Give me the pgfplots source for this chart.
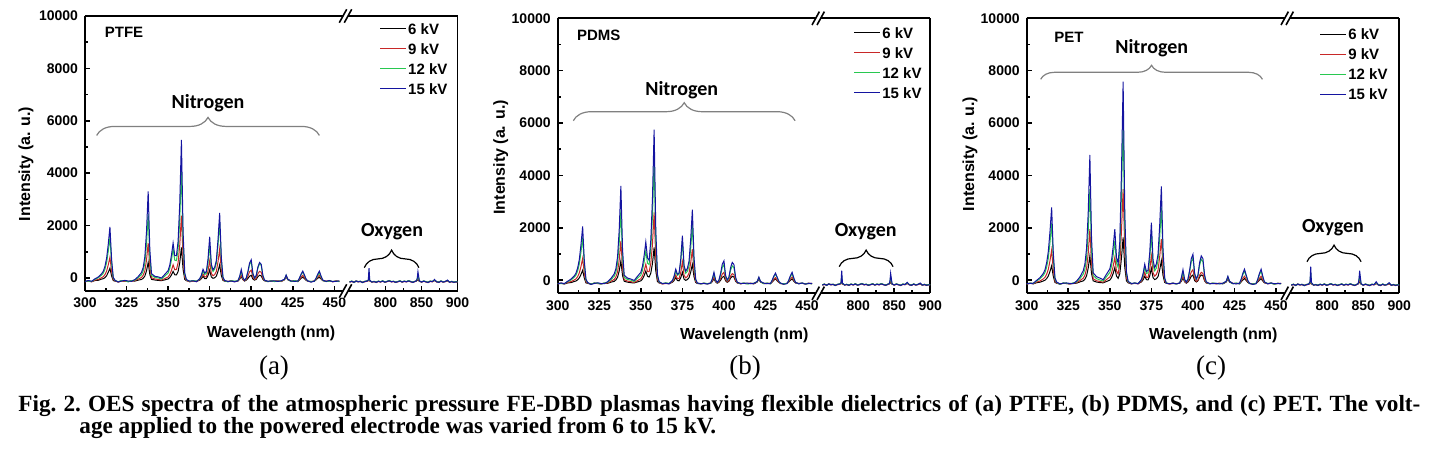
\documentclass[border=0pt]{standalone}
\usepackage{fontspec}
\setmainfont{Liberation Sans}
\newfontfamily\calfont{Carlito}
\newfontfamily\timesfont{Liberation Serif}
\usepackage{pgfplots}
\usepackage{pgfplotstable}
\pgfplotsset{compat=1.18}
\usetikzlibrary{decorations.pathreplacing}

\definecolor{c6}{RGB}{0,0,0}
\definecolor{c9}{RGB}{200,40,40}
\definecolor{c12}{RGB}{40,200,80}
\definecolor{c15}{RGB}{20,20,160}

% ---------- PTFE ----------
\pgfplotstableread{
x k6 k9 k12 k15
300 -140 -150 -130 -135
302 -110 -120 -125 -100
304 -145 -150 -135 -130
306 -100 -85 -55 -35
308 -90 -60 5 35
310 -45 10 105 160
311 -30 45 180 255
312 10 125 330 440
313 85 260 580 750
314 215 500 1015 1290
315 370 790 1550 1950
316 75 245 550 710
317 -100 -65 -5 25
318 -120 -110 -95 -90
320 -150 -160 -145 -155
322 -110 -115 -100 -120
324 -125 -135 -110 -95
326 -140 -130 -150 -120
328 -115 -125 -105 -130
330 -120 -105 -85 -65
332 -85 -45 10 50
334 -60 15 125 210
335 -15 100 265 395
336 70 270 570 805
337 270 680 1290 1760
338 590 1330 2440 3300
339 130 390 775 1075
340 -55 5 95 165
342 -80 -40 20 60
344 -95 -60 0 40
346 -105 -85 -45 -5
348 -75 -25 70 135
350 -40 35 185 275
351 15 130 365 490
352 110 285 685 865
353 250 500 1100 1330
354 120 310 675 850
355 115 320 660 850
356 240 575 1080 1390
357 585 1255 2235 2845
358 1160 2380 4160 5270
359 330 755 1380 1765
360 -55 20 125 195
361 -105 -95 -75 -65
363 -140 -150 -130 -125
365 -115 -120 -100 -110
367 -130 -140 -125 -145
369 -85 -65 -45 -30
370 -30 15 70 105
371 60 150 260 330
372 -25 40 130 185
373 -25 45 175 240
374 90 265 565 725
375 300 650 1250 1570
376 35 170 405 515
377 -15 80 245 310
378 5 125 335 405
379 65 245 560 660
380 250 610 1240 1440
381 500 1100 2150 2480
382 95 305 675 790
383 -95 -55 5 25
384 -125 -115 -110 -100
386 -140 -130 -150 -135
388 -110 -125 -115 -120
390 -135 -145 -125 -150
392 -120 -115 -105 -110
393 -50 -30 30 55
394 50 100 250 320
395 -70 -55 -10 10
396 -120 -110 -95 -90
397 -85 -55 -10 0
398 -20 70 215 245
399 65 235 510 570
400 100 300 620 690
401 -45 25 140 165
402 -85 -60 -15 -5
403 -55 -10 80 95
404 45 160 375 415
405 100 250 540 590
406 80 215 475 520
407 -55 -10 80 95
408 -110 -100 -85 -85
410 -140 -135 -145 -130
412 -115 -125 -110 -120
414 -130 -120 -140 -115
416 -120 -110 -125 -135
418 -135 -140 -120 -110
420 -70 -65 -55 -50
421 40 70 100 110
422 -70 -60 -55 -50
424 -130 -125 -140 -120
426 -110 -120 -105 -130
428 -140 -130 -135 -125
429 -75 -55 -15 -5
430 -15 35 125 145
431 30 100 230 260
432 -30 10 90 110
433 -90 -75 -50 -45
434 -125 -130 -120 -115
436 -140 -150 -135 -160
438 -120 -115 -130 -125
439 -75 -55 -25 -5
440 -15 35 105 145
441 30 100 200 260
442 -45 -10 40 70
443 -105 -100 -90 -80
445 -130 -125 -140 -135
447 -115 -110 -120 -100
449 -140 -150 -135 -145
451 -120 -115 -125 -130
453 -135 -130 -140 -115
}\ptfeL

\pgfplotstableread{
x k6 k9 k12 k15
750 -150 -165 -155 -160
753 -125 -140 -120 -130
756 -160 -170 -175 -170
759 -115 -130 -125 -120
762 -140 -155 -145 -150
765 -130 -140 -125 -135
768 -165 -170 -180 -175
771 -135 -150 -130 -140
774 -120 -130 -115 -125
776 -105 -110 -90 -80
777 -40 20 150 370
778 -115 -115 -100 -90
781 -150 -165 -155 -160
784 -135 -145 -130 -140
787 -160 -175 -165 -170
790 -125 -135 -120 -130
793 -150 -160 -145 -155
796 -115 -125 -110 -120
799 -155 -170 -160 -165
802 -135 -145 -130 -140
805 -105 -115 -100 -110
808 -145 -155 -140 -150
811 -130 -140 -125 -135
814 -160 -175 -165 -170
817 -140 -150 -135 -145
820 -115 -125 -110 -120
823 -150 -165 -155 -160
826 -125 -135 -120 -130
829 -145 -155 -140 -150
832 -110 -120 -105 -115
835 -140 -150 -135 -145
838 -160 -175 -165 -170
841 -130 -140 -125 -135
843 -115 -120 -110 -110
844 -95 -80 -40 -20
845 -70 0 110 240
847 -125 -130 -120 -115
850 -150 -165 -155 -160
853 -120 -130 -115 -125
856 -145 -155 -140 -150
859 -165 -180 -170 -175
862 -125 -135 -120 -130
865 -140 -150 -135 -145
868 -100 -95 -80 -60
871 -145 -155 -140 -150
874 -160 -175 -165 -170
877 -120 -130 -115 -125
880 -150 -165 -155 -160
883 -135 -145 -130 -140
886 -110 -110 -100 -85
889 -155 -170 -160 -165
892 -135 -145 -130 -140
895 -160 -175 -165 -170
898 -145 -155 -140 -150
900 -150 -165 -155 -160
}\ptfeR

% ---------- PDMS ----------
\pgfplotstableread{
x k6 k9 k12 k15
300 -130 -145 -125 -140
302 -120 -110 -130 -105
304 -145 -140 -130 -130
306 -105 -85 -55 -40
308 -90 -55 10 45
310 -50 10 115 165
311 -30 50 195 270
312 15 135 355 465
313 90 280 615 790
314 220 525 1070 1355
315 380 830 1630 2050
316 80 260 580 750
317 -100 -65 0 35
318 -120 -110 -95 -85
320 -145 -155 -150 -160
322 -115 -110 -105 -125
324 -120 -130 -115 -100
326 -145 -135 -140 -125
328 -110 -120 -110 -135
330 -120 -105 -80 -60
332 -75 -40 20 65
334 -45 30 150 240
335 10 125 300 440
336 110 315 635 885
337 355 770 1420 1925
338 740 1500 2680 3600
339 180 445 860 1180
340 -40 20 115 190
342 -75 -35 25 80
344 -95 -55 5 45
346 -105 -85 -50 -10
348 -65 -15 80 150
350 -25 55 195 300
351 45 165 380 535
352 175 355 700 945
353 350 610 1120 1460
354 150 330 650 850
355 120 330 600 760
356 270 640 1190 1525
357 635 1370 2455 3110
358 1250 2590 4560 5750
359 360 830 1520 1935
360 -50 35 150 220
361 -105 -95 -75 -60
363 -135 -145 -125 -130
365 -110 -125 -105 -115
367 -135 -130 -120 -140
369 -75 -55 -25 -10
370 -10 40 115 150
371 100 200 350 420
372 -10 60 185 225
373 -25 60 230 270
374 90 290 690 790
375 300 700 1500 1700
376 40 190 480 565
377 -5 90 265 345
378 25 140 340 450
379 95 270 550 725
380 310 660 1220 1565
381 600 1180 2110 2690
382 130 335 660 865
383 -85 -50 5 40
384 -125 -115 -105 -110
386 -135 -140 -145 -130
388 -115 -120 -110 -125
390 -140 -135 -130 -145
392 -120 -110 -115 -105
393 -50 -25 30 50
394 60 120 250 300
395 -65 -50 -10 5
396 -115 -110 -95 -85
397 -80 -55 -10 10
398 0 70 205 265
399 110 235 490 610
400 150 300 600 740
401 -25 25 130 180
402 -80 -60 -15 5
403 -40 -10 80 120
404 85 160 385 480
405 150 250 550 680
406 125 215 485 600
407 -40 -10 80 120
408 -105 -100 -85 -80
410 -130 -140 -135 -125
412 -120 -115 -105 -125
414 -135 -125 -140 -110
416 -115 -120 -130 -135
418 -140 -130 -115 -120
420 -70 -60 -55 -50
421 40 80 100 120
422 -70 -60 -55 -50
424 -125 -130 -135 -115
426 -115 -125 -110 -135
428 -135 -125 -140 -120
429 -70 -55 -10 -5
430 0 35 130 155
431 50 100 240 270
432 -20 10 95 115
433 -85 -75 -50 -40
434 -120 -130 -125 -110
436 -145 -140 -135 -155
438 -115 -120 -125 -130
439 -70 -50 -10 5
440 0 50 140 175
441 50 120 250 300
442 -35 0 65 90
443 -105 -95 -85 -80
445 -125 -130 -135 -140
447 -120 -115 -110 -105
449 -135 -145 -140 -150
451 -115 -120 -130 -125
453 -140 -125 -135 -120
}\pdmsL

\pgfplotstableread{
x k6 k9 k12 k15
750 -175 -190 -180 -185
753 -150 -165 -145 -155
756 -185 -195 -200 -195
759 -140 -155 -150 -145
762 -165 -180 -170 -175
765 -155 -165 -150 -160
768 -190 -195 -205 -200
771 -160 -175 -155 -165
774 -145 -155 -140 -150
776 -130 -135 -115 -100
777 -50 30 170 365
778 -140 -140 -125 -110
781 -175 -190 -180 -185
784 -160 -170 -155 -165
787 -185 -200 -190 -195
790 -150 -160 -145 -155
793 -175 -185 -170 -180
796 -140 -150 -135 -145
799 -180 -195 -185 -190
802 -160 -170 -155 -165
805 -130 -140 -125 -135
808 -170 -180 -165 -175
811 -155 -165 -150 -160
814 -185 -200 -190 -195
817 -165 -175 -160 -170
820 -140 -150 -135 -145
823 -175 -190 -180 -185
826 -150 -160 -145 -155
829 -170 -180 -165 -175
832 -135 -145 -130 -140
835 -165 -175 -160 -170
838 -185 -200 -190 -195
841 -155 -165 -150 -160
843 -140 -145 -135 -135
844 -120 -105 -65 -40
845 -80 10 120 265
847 -150 -155 -145 -140
850 -175 -190 -180 -185
853 -145 -155 -140 -150
856 -170 -180 -165 -175
859 -190 -205 -195 -200
862 -150 -160 -145 -155
865 -165 -175 -160 -170
868 -125 -120 -105 -80
871 -170 -180 -165 -175
874 -185 -200 -190 -195
877 -145 -155 -140 -150
880 -175 -190 -180 -185
883 -160 -170 -155 -165
886 -135 -135 -125 -110
889 -180 -195 -185 -190
892 -160 -170 -155 -165
895 -185 -200 -190 -195
898 -170 -180 -165 -175
900 -175 -190 -180 -185
}\pdmsR

% ---------- PET ----------
\pgfplotstableread{
x k6 k9 k12 k15
300 -135 -150 -140 -130
302 -115 -120 -110 -125
304 -140 -130 -120 -115
306 -95 -70 -30 -5
308 -75 -30 55 100
310 -30 50 185 260
311 0 110 290 400
312 60 225 500 665
313 160 415 840 1100
314 335 745 1435 1850
315 550 1150 2170 2780
316 150 390 795 1040
317 -85 -40 45 90
318 -115 -105 -85 -70
320 -150 -145 -155 -140
322 -110 -120 -105 -115
324 -130 -125 -115 -105
326 -140 -145 -135 -125
328 -120 -115 -105 -130
330 -115 -95 -65 -35
332 -65 -15 60 125
334 -25 75 230 360
335 40 190 420 615
336 165 440 850 1205
337 460 1020 1860 2575
338 930 1950 3480 4780
339 250 605 1140 1595
340 -25 55 180 280
342 -70 -20 60 135
344 -90 -50 10 80
346 -100 -75 -30 20
348 -50 25 135 230
350 5 120 295 430
351 95 265 535 735
352 255 525 950 1275
353 480 870 1500 1950
354 160 355 665 875
355 70 240 490 650
356 245 620 1145 1465
357 845 1860 3265 4115
358 1630 3480 6030 7580
359 490 1140 2030 2575
360 -25 85 240 330
361 -100 -85 -60 -45
363 -140 -135 -125 -130
365 -115 -120 -110 -105
367 -130 -140 -125 -135
369 -65 -35 5 25
370 15 90 190 245
371 150 300 500 610
372 20 110 255 330
373 10 110 285 380
374 165 405 820 1040
375 450 930 1760 2200
376 95 280 590 760
377 25 155 360 480
378 55 220 465 625
379 140 385 750 990
380 395 895 1620 2100
381 740 1570 2780 3580
382 180 470 895 1175
383 -80 -30 45 90
384 -120 -110 -105 -115
386 -140 -145 -130 -135
388 -110 -125 -120 -115
390 -135 -130 -145 -140
392 -115 -120 -105 -110
393 -40 -10 50 90
394 80 150 300 400
395 -60 -40 5 35
396 -115 -105 -80 -75
397 -70 -40 25 45
398 25 115 315 380
399 150 320 705 825
400 200 400 850 990
401 -10 60 220 270
402 -70 -45 25 45
403 -25 5 155 195
404 120 195 570 670
405 200 300 800 930
406 170 260 710 825
407 -25 5 155 195
408 -105 -100 -75 -65
410 -135 -130 -140 -125
412 -115 -120 -110 -130
414 -130 -140 -125 -120
416 -120 -115 -135 -140
418 -140 -125 -120 -115
420 -70 -55 -45 -40
421 50 100 130 150
422 -70 -55 -45 -40
424 -130 -120 -135 -125
426 -115 -130 -110 -140
428 -140 -120 -135 -115
429 -65 -40 20 40
430 5 70 210 260
431 60 150 350 420
432 -10 40 160 205
433 -85 -65 -25 -10
434 -125 -120 -130 -115
436 -150 -140 -145 -160
438 -120 -125 -115 -135
439 -65 -40 20 40
440 5 70 210 260
441 60 150 350 420
442 -30 15 115 150
443 -100 -95 -75 -65
445 -130 -135 -125 -140
447 -110 -120 -115 -105
449 -145 -140 -150 -135
451 -120 -125 -115 -130
453 -135 -120 -140 -125
}\petL

\pgfplotstableread{
x k6 k9 k12 k15
750 -180 -195 -185 -190
753 -155 -170 -150 -160
756 -190 -200 -205 -200
759 -145 -160 -155 -150
762 -170 -185 -175 -180
765 -160 -170 -155 -165
768 -195 -200 -210 -205
771 -165 -180 -160 -170
774 -150 -160 -145 -155
776 -130 -125 -90 -60
777 -20 80 280 515
778 -140 -130 -110 -90
781 -180 -195 -185 -190
784 -165 -175 -160 -170
787 -190 -205 -195 -200
790 -155 -165 -150 -160
793 -180 -190 -175 -185
796 -145 -155 -140 -150
799 -185 -200 -190 -195
802 -165 -175 -160 -170
805 -135 -145 -130 -140
808 -175 -185 -170 -180
811 -160 -170 -155 -165
814 -190 -205 -195 -200
817 -170 -180 -165 -175
820 -145 -155 -140 -150
823 -180 -195 -185 -190
826 -155 -165 -150 -160
829 -175 -185 -170 -180
832 -140 -150 -135 -145
835 -170 -180 -165 -175
838 -190 -205 -195 -200
841 -160 -170 -155 -165
843 -140 -140 -125 -120
844 -110 -80 -30 10
845 -50 50 200 365
847 -150 -150 -140 -130
850 -180 -195 -185 -190
853 -150 -160 -145 -155
856 -175 -185 -170 -180
859 -195 -210 -200 -205
862 -155 -165 -150 -160
865 -170 -180 -165 -175
868 -125 -115 -90 -60
871 -175 -185 -170 -180
874 -190 -205 -195 -200
877 -150 -160 -145 -155
880 -180 -195 -185 -190
883 -165 -175 -160 -170
886 -135 -130 -115 -95
889 -185 -200 -190 -195
892 -165 -175 -160 -170
895 -190 -205 -195 -200
898 -175 -185 -170 -180
900 -180 -195 -185 -190
}\petR

\pgfplotsset{
  oes/.style={
    scale only axis, height=137.5pt,
    ymin=-500, ymax=10000,
    clip=false, no markers,
    tick align=inside,
    axis line style={line width=0.9pt},
    every tick/.style={black, line width=0.8pt},
    major tick length=2.6pt, minor tick length=1.6pt,
    tick label style={font=\bfseries\fontsize{7}{8}\selectfont},
    /pgf/number format/assume math mode=true,
    /pgf/number format/1000 sep={},
    scaled ticks=false,
    xtick pos=left,
    axis x line*=box,
    every axis plot/.append style={line width=0.5pt},
  },
  lft/.style={oes, width=130.5pt, xmin=300, xmax=457,
    xtick={300,325,...,450}, minor x tick num=1,
    ytick={0,2000,...,10000}, minor y tick num=1,
    axis y line*=left, ytick pos=left},
  rgt/.style={oes, width=55.75pt, xmin=745, xmax=900,
    xtick={800,850,900}, minor xtick={775,825,875},
    ytick=\empty, axis y line*=right,
    legend cell align=left,
    legend image code/.code={\draw[##1, line width=0.6pt] (0pt,0pt) -- (12.8pt,0pt);},
    legend style={draw=none, fill=none, inner sep=0pt, row sep=2.5pt,
      font=\bfseries\fontsize{7.5}{8}\selectfont,
      nodes={inner sep=1pt, text height=5.4pt, text depth=0.1pt}}},
}
\newcommand{\brk}[2]{%
  \begin{scope}[shift={(#1,#2)}]
    \fill[white] (-3.35pt,-3.35pt) -- (-0.85pt,-3.35pt) -- (2.85pt,3.35pt) -- (0.35pt,3.35pt) -- cycle;
    \draw[line width=0.8pt] (-3.35pt,-3.35pt) -- (0.35pt,3.35pt);
    \draw[line width=0.8pt] (-0.85pt,-3.35pt) -- (2.85pt,3.35pt);
  \end{scope}}
\tikzset{lab/.style={font=\bfseries\fontsize{8}{9}\selectfont},
  gas/.style={font=\calfont\bfseries\fontsize{10}{12}\selectfont},
  sample/.style={anchor=west, font=\bfseries\fontsize{7.5}{9}\selectfont}}

\begin{document}
\begin{tikzpicture}
\useasboundingbox (0,0) rectangle (715.5pt,-227pt);

% ---------------- (a) PTFE ----------------
\begin{axis}[lft, at={(42.5pt,-8pt)}, anchor=north west]
\addplot[c6] table[x=x,y=k6]{\ptfeL};
\addplot[c9] table[x=x,y=k9]{\ptfeL};
\addplot[c12] table[x=x,y=k12]{\ptfeL};
\addplot[c15] table[x=x,y=k15]{\ptfeL};
\node[sample] at (rel axis cs:0.049,0.941) {PTFE};
\draw[gray, line width=0.6pt, decorate, decoration={brace, amplitude=9pt}] (axis cs:307,5440) -- (axis cs:441,5440);
\node[gas] at (axis cs:374,6680) {Nitrogen};
\end{axis}
\begin{axis}[rgt, at={(173pt,-8pt)}, anchor=north west,
  legend style={at={(rel axis cs:0.296,0.9825)}, anchor=north west}]
\addplot[c6] table[x=x,y=k6]{\ptfeR};
\addplot[c9] table[x=x,y=k9]{\ptfeR};
\addplot[c12] table[x=x,y=k12]{\ptfeR};
\addplot[c15] table[x=x,y=k15]{\ptfeR};
\legend{6 kV, 9 kV, 12 kV, 15 kV}
\draw[line width=0.6pt, decorate, decoration={brace, amplitude=8.8pt}] (axis cs:770.4,389) -- (axis cs:846.4,389);
\node[gas] at (axis cs:809,1764) {Oxygen};
\end{axis}

% ---------------- (b) PDMS ----------------
\begin{axis}[lft, at={(278.85pt,-9.15pt)}, anchor=north west]
\addplot[c6] table[x=x,y=k6]{\pdmsL};
\addplot[c9] table[x=x,y=k9]{\pdmsL};
\addplot[c12] table[x=x,y=k12]{\pdmsL};
\addplot[c15] table[x=x,y=k15]{\pdmsL};
\node[sample] at (rel axis cs:0.047,0.939) {PDMS};
\draw[gray, line width=0.6pt, decorate, decoration={brace, amplitude=9pt}] (axis cs:309.4,6090) -- (axis cs:442.8,6090);
\node[gas] at (axis cs:374.6,7262) {Nitrogen};
\end{axis}
\begin{axis}[rgt, at={(409.35pt,-9.15pt)}, anchor=north west,
  legend style={at={(rel axis cs:0.309,0.976)}, anchor=north west}]
\addplot[c6] table[x=x,y=k6]{\pdmsR};
\addplot[c9] table[x=x,y=k9]{\pdmsR};
\addplot[c12] table[x=x,y=k12]{\pdmsR};
\addplot[c15] table[x=x,y=k15]{\pdmsR};
\legend{6 kV, 9 kV, 12 kV, 15 kV}
\draw[line width=0.6pt, decorate, decoration={brace, amplitude=8.3pt}] (axis cs:773.5,516) -- (axis cs:848.4,516);
\node[gas] at (axis cs:810.4,1852) {Oxygen};
\end{axis}

% ---------------- (c) PET ----------------
\begin{axis}[lft, at={(513.35pt,-9.15pt)}, anchor=north west]
\addplot[c6] table[x=x,y=k6]{\petL};
\addplot[c9] table[x=x,y=k9]{\petL};
\addplot[c12] table[x=x,y=k12]{\petL};
\addplot[c15] table[x=x,y=k15]{\petL};
\node[sample] at (rel axis cs:0.079,0.929) {PET};
\draw[gray, line width=0.6pt, decorate, decoration={brace, amplitude=7pt}] (axis cs:308.4,7671) -- (axis cs:441.8,7671);
\node[gas] at (axis cs:375.2,8855) {Nitrogen};
\end{axis}
\begin{axis}[rgt, at={(643.85pt,-9.15pt)}, anchor=north west,
  legend style={at={(rel axis cs:0.282,0.970)}, anchor=north west}]
\addplot[c6] table[x=x,y=k6]{\petR};
\addplot[c9] table[x=x,y=k9]{\petR};
\addplot[c12] table[x=x,y=k12]{\petR};
\addplot[c15] table[x=x,y=k15]{\petR};
\legend{6 kV, 9 kV, 12 kV, 15 kV}
\draw[line width=0.6pt, decorate, decoration={brace, amplitude=8.3pt}] (axis cs:771.8,706) -- (axis cs:847,706);
\node[gas] at (axis cs:808,2005) {Oxygen};
\end{axis}

% axis breaks
\brk{173pt}{-8pt}\brk{173pt}{-145.5pt}
\brk{409.35pt}{-9.15pt}\brk{409.35pt}{-146.65pt}
\brk{643.85pt}{-9.15pt}\brk{643.85pt}{-146.65pt}

% axis titles
\node[lab, rotate=90] at (13pt,-82pt) {Intensity (a. u.)};
\node[lab, rotate=90] at (250.35pt,-78.65pt) {Intensity (a. u.)};
\node[lab, rotate=90] at (485pt,-77pt) {Intensity (a. u.)};
\node[lab] at (135.5pt,-166.7pt) {Wavelength (nm)};
\node[lab] at (372.1pt,-167.5pt) {Wavelength (nm)};
\node[lab] at (606.6pt,-167.5pt) {Wavelength (nm)};

% panel letters
\node[font=\timesfont\fontsize{13.5}{14}\selectfont] at (137pt,-184.2pt) {(a)};
\node[font=\timesfont\fontsize{13.5}{14}\selectfont] at (372.5pt,-184.2pt) {(b)};
\node[font=\timesfont\fontsize{13.5}{14}\selectfont] at (605.5pt,-184.2pt) {(c)};

% caption
\node[anchor=base west, text width=701pt, align=justify, inner sep=0pt,
  font=\timesfont\bfseries\fontsize{11.6}{11}\selectfont] at (9pt,-206pt)
  {\frenchspacing\hangindent=30.5pt\hangafter=1 Fig. 2. OES spectra of the atmospheric pressure FE-DBD plasmas having flexible dielectrics of (a) PTFE, (b) PDMS, and (c) PET. The volt-\linebreak age applied to the powered electrode was varied from 6 to 15 kV.\par};
\end{tikzpicture}
\end{document}
